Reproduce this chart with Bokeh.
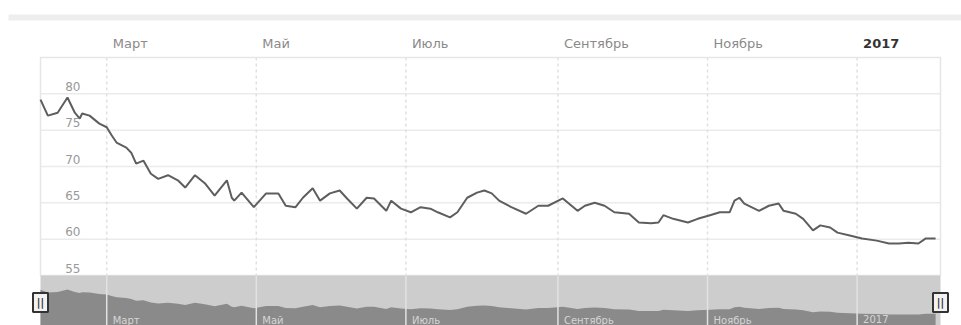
import pandas as pd
from bokeh.plotting import figure
from bokeh.models import ColumnDataSource, Range1d
from bokeh.core.properties import value
from bokeh.embed import file_html
from bokeh.resources import INLINE

# ---------------- data ----------------
dates = [
    "2016-02-03", "2016-02-06", "2016-02-10", "2016-02-14", "2016-02-17", "2016-02-19",
    "2016-02-20", "2016-02-23", "2016-02-27", "2016-03-01", "2016-03-03", "2016-03-05",
    "2016-03-09", "2016-03-11", "2016-03-13", "2016-03-16", "2016-03-19", "2016-03-22",
    "2016-03-26", "2016-03-30", "2016-04-02", "2016-04-06", "2016-04-10", "2016-04-14",
    "2016-04-19", "2016-04-21", "2016-04-22", "2016-04-25", "2016-04-30", "2016-05-05",
    "2016-05-10", "2016-05-13", "2016-05-17", "2016-05-20", "2016-05-24", "2016-05-27",
    "2016-05-31", "2016-06-04", "2016-06-07", "2016-06-11", "2016-06-15", "2016-06-18",
    "2016-06-23", "2016-06-25", "2016-06-29", "2016-07-03", "2016-07-07", "2016-07-11",
    "2016-07-14", "2016-07-19", "2016-07-22", "2016-07-26", "2016-07-30", "2016-08-02",
    "2016-08-05", "2016-08-08", "2016-08-13", "2016-08-19", "2016-08-24", "2016-08-28",
    "2016-09-03", "2016-09-09", "2016-09-12", "2016-09-16", "2016-09-20", "2016-09-24",
    "2016-09-30", "2016-10-04", "2016-10-09", "2016-10-12", "2016-10-14", "2016-10-18",
    "2016-10-24", "2016-10-28", "2016-11-02", "2016-11-06", "2016-11-10", "2016-11-12",
    "2016-11-14", "2016-11-16", "2016-11-22", "2016-11-26", "2016-11-30", "2016-12-02",
    "2016-12-07", "2016-12-10", "2016-12-14", "2016-12-17", "2016-12-21", "2016-12-24",
    "2016-12-29", "2017-01-03", "2017-01-09", "2017-01-14", "2017-01-18", "2017-01-22",
    "2017-01-26", "2017-01-29", "2017-02-02",
]
values = [
    79.2, 77.0, 77.4, 79.5, 77.4, 76.6,
    77.3, 77.0, 75.9, 75.4, 74.3, 73.3,
    72.6, 71.9, 70.4, 70.8, 69.0, 68.3,
    68.8, 68.1, 67.1, 68.8, 67.7, 66.0,
    68.1, 65.7, 65.3, 66.4, 64.4, 66.3,
    66.3, 64.6, 64.4, 65.7, 67.0, 65.3,
    66.3, 66.7, 65.6, 64.2, 65.7, 65.6,
    63.9, 65.3, 64.2, 63.7, 64.4, 64.2,
    63.7, 63.0, 63.7, 65.7, 66.4, 66.7,
    66.3, 65.3, 64.4, 63.5, 64.6, 64.6,
    65.6, 63.9, 64.6, 65.0, 64.6, 63.7,
    63.5, 62.3, 62.2, 62.3, 63.3, 62.8,
    62.3, 62.8, 63.3, 63.7, 63.7, 65.3,
    65.7, 64.9, 63.9, 64.6, 64.9, 63.9,
    63.5, 62.8, 61.2, 61.9, 61.6, 60.9,
    60.5, 60.1, 59.8, 59.4, 59.4, 59.5,
    59.4, 60.1, 60.1,
]
tick_dates = ["2016-03-01", "2016-05-01", "2016-07-01", "2016-09-01", "2016-11-01", "2017-01-01"]
tick_labels = ["Март", "Май", "Июль", "Сентябрь", "Ноябрь", "2017"]
y_ticks = [55, 60, 65, 70, 75, 80]
y_labels = ["55", "60", "65", "70", "75", "80"]
y_top = 85
range_end_date = "2017-02-04"

# ---------------- layout (pixels on the canvas) ----------------
W, H = 961, 325
PL, PR, PT, PB = 40, 940, 57, 275      # main plot area
ppu = (PB - PT) / (y_top - y_ticks[0])


def yv(px):
    return y_top - (px - PT) / ppu


def ms(d):
    return pd.Timestamp(d).timestamp() * 1000.0


x0_ms, x1_ms = ms(dates[0]), ms(range_end_date)
ms_per_px = (x1_ms - x0_ms) / (PR - PL)


def xv(px):
    return x0_ms + (px - PL) * ms_per_px


src = ColumnDataSource(data=dict(date=[ms(d) for d in dates], val=values))
tick_ms = [ms(d) for d in tick_dates]

# navigator scale
vmin, vmax = min(values), max(values)
NAV_TOP_PX, NAV_BOT_PX = 289, 314
nscale = (NAV_BOT_PX - NAV_TOP_PX) / (vmax - vmin)
nav_start = vmin - (H - NAV_BOT_PX) / nscale
nav_end = vmax + NAV_TOP_PX / nscale

p = figure(width=W, height=H,
           x_range=Range1d(xv(0), xv(W)), y_range=Range1d(yv(H), yv(0)),
           output_backend="svg", toolbar_location=None,
           x_axis_location=None, y_axis_location=None,
           min_border=0)
p.extra_y_ranges = {"nav": Range1d(nav_start, nav_end)}
p.outline_line_color = None
p.xgrid.visible = False
p.ygrid.visible = False
p.background_fill_color = "white"
p.border_fill_color = "white"

# top band
p.quad(left=xv(8), right=xv(W), top=yv(14), bottom=yv(20),
       fill_color="#eeeeee", line_color=None)

# horizontal grid lines
p.segment(x0=[x0_ms] * 5, x1=[x1_ms] * 5, y0=y_ticks[1:], y1=y_ticks[1:],
          line_color="#ebebeb", line_width=1.5)
# vertical dashed grid lines
p.segment(x0=tick_ms, x1=tick_ms, y0=[y_top] * 6, y1=[y_ticks[0]] * 6,
          line_color="#e0e0e0", line_width=1.5, line_dash="3 3")
# plot border
p.quad(left=x0_ms, right=x1_ms, top=y_top, bottom=y_ticks[0],
       fill_color=None, line_color="#e6e6e6", line_width=1.5)

# navigator background + series
p.quad(left=x0_ms, right=x1_ms, top=y_ticks[0], bottom=yv(H),
       fill_color="#cdcdcd", line_color=None)
p.varea(x="date", y1=nav_start, y2="val", source=src, y_range_name="nav",
        fill_color="#8a8a8a")
p.segment(x0=tick_ms, x1=tick_ms, y0=[y_ticks[0]] * 6, y1=[yv(H)] * 6,
          line_color="#e2e2e2", line_width=1.5)
p.text(x=tick_ms, y=[yv(314)] * 6, text=tick_labels, x_offset=6,
       text_align="left", text_baseline="top", text_color="#d6d6d6",
       text_font_size="10px", text_font=value("DejaVu Sans"))

# main series
p.line(x="date", y="val", source=src, line_color="#5e5e5e", line_width=2)

# y labels inside plot
p.text(x=[x0_ms] * len(y_ticks), y=y_ticks, text=y_labels,
       x_offset=40, y_offset=-3, text_align="right", text_baseline="bottom",
       text_color="#999999", text_font_size="12px", text_font=value("DejaVu Sans"))

# x labels on top
p.text(x=tick_ms, y=[yv(43)] * 6, text=tick_labels, x_offset=6,
       text_align="left", text_baseline="middle",
       text_color=["#8a8a8a"] * 5 + ["#333333"],
       text_font_style=["normal"] * 5 + ["bold"],
       text_font_size="13px", text_font=value("DejaVu Sans"))

# navigator handles
hx = [x0_ms, x1_ms]
p.rect(x=hx, y=[yv(302)] * 2, width=15, height=19, width_units="screen",
       height_units="screen", fill_color="#f2f2f2", line_color="#333333", line_width=2)
p.text(x=hx, y=[yv(302)] * 2, text=["||", "||"], text_align="center",
       text_baseline="middle", text_color="#333333", text_font_size="10px",
       text_font_style="bold", text_font=value("DejaVu Sans"))

open("out.html", "w").write(file_html(p, INLINE))
